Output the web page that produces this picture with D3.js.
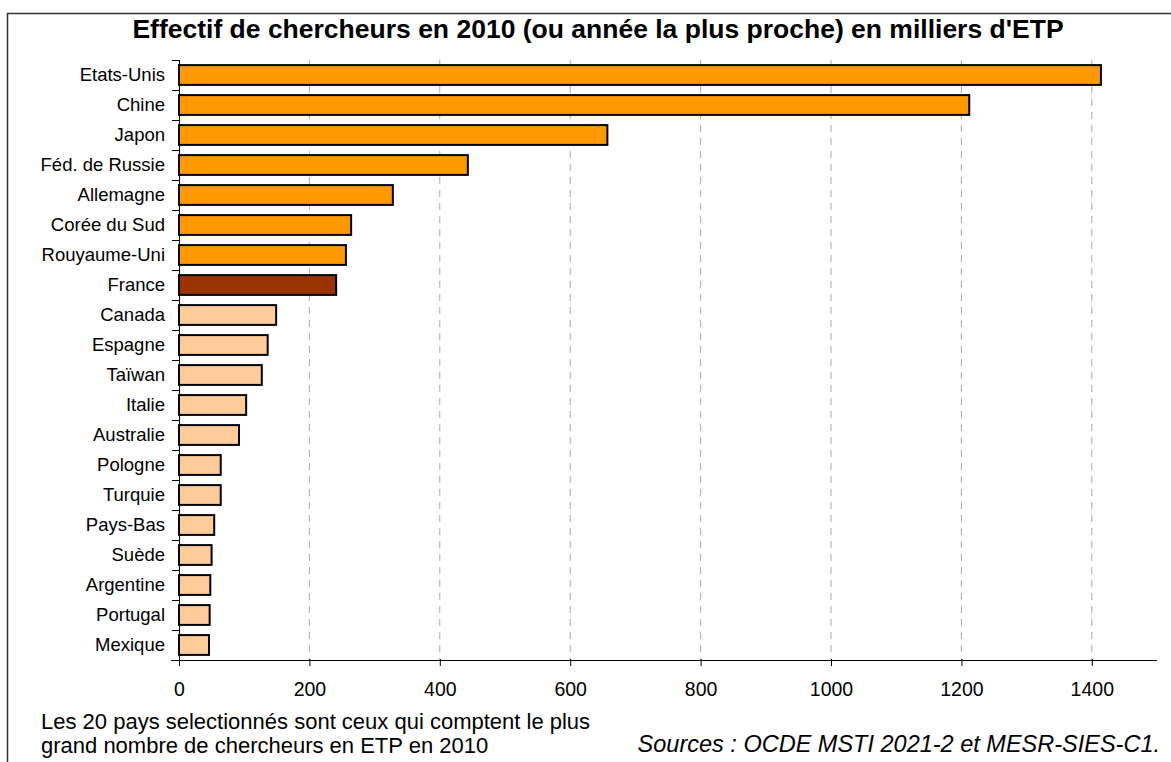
<!DOCTYPE html>
<html>
<head>
<meta charset="utf-8">
<script src="https://cdn.jsdelivr.net/npm/d3@7"></script>
<style>
  body { margin: 0; background: #fff; }
  svg { font-family: 'Liberation Sans', Arial, sans-serif; }
</style>
</head>
<body>
<svg id="chart" width="1171" height="762"></svg>
<script>
const countries = ['Etats-Unis', 'Chine', 'Japon', 'Féd. de Russie', 'Allemagne', 'Corée du Sud',
  'Rouyaume-Uni', 'France', 'Canada', 'Espagne', 'Taïwan', 'Italie', 'Australie', 'Pologne',
  'Turquie', 'Pays-Bas', 'Suède', 'Argentine', 'Portugal', 'Mexique']
const researchers = [1414, 1212, 657, 443, 328, 264, 256, 241, 149, 136, 127, 103, 92, 64,
  64, 54, 50, 48, 47, 46]
const groups = ['top', 'top', 'top', 'top', 'top', 'top', 'top', 'france', 'other', 'other',
  'other', 'other', 'other', 'other', 'other', 'other', 'other', 'other', 'other', 'other']
const xTicks = [0, 200, 400, 600, 800, 1000, 1200, 1400]

const title = "Effectif de chercheurs en 2010 (ou année la plus proche) en milliers d'ETP"
const noteLines = ['Les 20 pays selectionnés sont ceux qui comptent le plus',
  'grand nombre de chercheurs en ETP en 2010']
const source = 'Sources : OCDE MSTI 2021-2 et MESR-SIES-C1.'

const data = countries.map((c, i) => ({ name: c, value: researchers[i], group: groups[i] }))

const svg = d3.select('#chart')
const margin = { top: 60, left: 179, right: 14, bottom: 102 }
const width = 1171 - margin.left - margin.right
const height = 762 - margin.top - margin.bottom

const color = d3.scaleOrdinal()
  .domain(['top', 'france', 'other'])
  .range(['#ff9900', '#993300', '#ffcc99'])

// outer frame (only top and left edges visible in the picture)
svg.append('path')
  .attr('d', 'M7.5,800 L7.5,13.5 L1180,13.5')
  .attr('fill', 'none')
  .attr('stroke', '#333')
  .attr('stroke-width', 1.5)

svg.append('text')
  .attr('x', 598)
  .attr('y', 38)
  .attr('text-anchor', 'middle')
  .style('font-size', '26.5px')
  .style('font-weight', 'bold')
  .text(title)

const g = svg.append('g').attr('transform', `translate(${margin.left}, ${margin.top})`)

const x = d3.scaleLinear().domain([0, 1500]).range([0, width])
const y = d3.scaleBand().domain(countries).range([0, height]).paddingInner(0.34).paddingOuter(0.17)

// dashed gridlines
g.append('g')
  .selectAll('line')
  .data(xTicks.filter(d => d > 0))
  .join('line')
  .attr('x1', d => x(d))
  .attr('x2', d => x(d))
  .attr('y1', 0)
  .attr('y2', height)
  .attr('stroke', '#aaa')
  .attr('stroke-dasharray', '7,6')

// bars
g.append('g')
  .selectAll('rect')
  .data(data)
  .join('rect')
  .attr('x', 0)
  .attr('y', d => y(d.name))
  .attr('width', d => x(d.value))
  .attr('height', y.bandwidth())
  .attr('fill', d => color(d.group))
  .attr('stroke', '#000')
  .attr('stroke-width', 2)

// x axis
const axisX = d3.axisBottom(x).tickValues(xTicks).tickFormat(d3.format('d')).tickSize(6).tickPadding(16)
const gx = g.append('g')
  .attr('transform', `translate(0, ${height})`)
  .call(axisX)
gx.select('.domain').attr('stroke', '#000').attr('d', `M-8,0.5H${width}`)
gx.selectAll('.tick line').attr('stroke', '#000').attr('y1', -1)
gx.selectAll('.tick text')
  .attr('fill', '#000')
  .style('font-size', '19.5px')
  .style('font-family', "'Liberation Sans', Arial, sans-serif")

// y axis: line, ticks at band boundaries, labels
g.append('line')
  .attr('x1', 0.5).attr('x2', 0.5)
  .attr('y1', 0).attr('y2', height + 6)
  .attr('stroke', '#000')

const boundaries = countries.map(c => y(c) - y.step() * y.paddingInner() / 2)
g.append('g')
  .selectAll('line')
  .data(boundaries)
  .join('line')
  .attr('x1', -7)
  .attr('x2', 0)
  .attr('y1', d => Math.round(d) + 0.5)
  .attr('y2', d => Math.round(d) + 0.5)
  .attr('stroke', '#000')

g.append('g')
  .selectAll('text')
  .data(countries)
  .join('text')
  .attr('x', -14)
  .attr('y', d => y(d) + y.bandwidth() / 2)
  .attr('dy', '0.35em')
  .attr('text-anchor', 'end')
  .style('font-size', '18.5px')
  .text(d => d)

// notes
svg.append('g')
  .selectAll('text')
  .data(noteLines)
  .join('text')
  .attr('x', 41)
  .attr('y', (d, i) => 729 + i * 24)
  .style('font-size', '22px')
  .text(d => d)

svg.append('text')
  .attr('x', 1160)
  .attr('y', 752)
  .attr('text-anchor', 'end')
  .style('font-size', '23.5px')
  .style('font-style', 'italic')
  .text(source)
</script>
</body>
</html>
